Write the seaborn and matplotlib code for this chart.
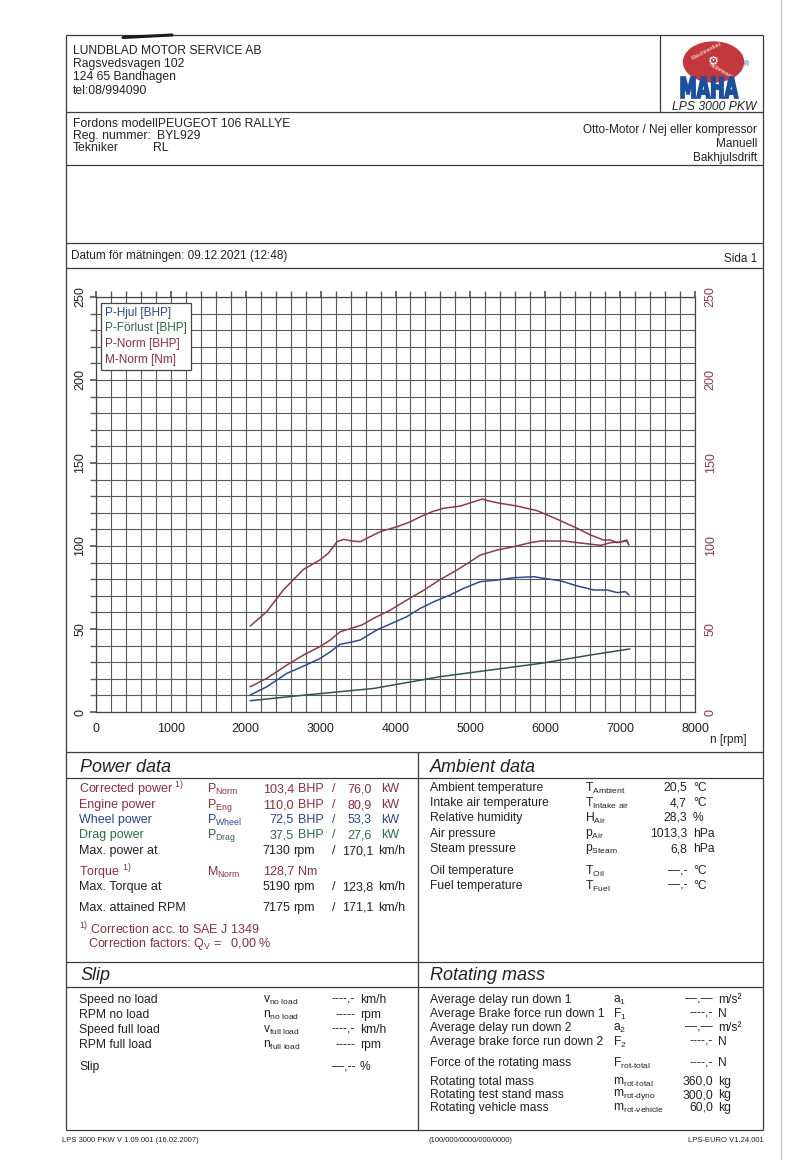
import pandas as pd
import matplotlib
matplotlib.use("Agg")
import matplotlib.pyplot as plt
import seaborn as sns
from matplotlib.patches import Ellipse, PathPatch
from matplotlib.lines import Line2D
from matplotlib.ticker import MultipleLocator
from matplotlib.textpath import TextPath
from matplotlib.font_manager import FontProperties
from matplotlib.transforms import Affine2D

# --- curves (rpm / BHP or Nm) ---
RPM_HJUL = [2060, 2280, 2550, 2770, 2990, 3130, 3260, 3400, 3530, 3750, 3930, 4150, 4330, 4510,
            4730, 4910, 5130, 5360, 5580, 5850, 5980, 6200, 6430, 6650, 6830, 6960, 7070, 7120]
P_HJUL = [10.2, 15.2, 23.3, 27.6, 32.2, 36.3, 40.8, 42.0, 43.4, 49.4, 53.0, 57.4, 62.4, 66.4,
          70.5, 74.5, 78.5, 79.5, 80.9, 81.5, 80.5, 79.1, 75.9, 73.5, 73.5, 71.9, 72.5, 70.5]

RPM_FORLUST = [2060, 2810, 3710, 4600, 5270, 5940, 6600, 7130]
P_FORLUST = [6.8, 10.3, 14.2, 21.3, 25.3, 29.3, 34.3, 38.0]

RPM_PNORM = [2060, 2280, 2550, 2770, 2990, 3130, 3260, 3400, 3550, 3710, 3930, 4150, 4380, 4600,
             4820, 5000, 5130, 5360, 5580, 5800, 5930, 6250, 6510, 6740, 6870, 7000, 7090, 7110]
P_NORM = [15.2, 20.3, 28.3, 34.3, 39.4, 43.4, 48.3, 50.3, 52.4, 56.5, 61.4, 67.4, 73.4, 79.9,
          85.5, 90.6, 94.5, 97.6, 99.6, 102.0, 103.0, 103.0, 101.6, 100.4, 102.0, 102.4, 103.6, 101.0]

RPM_MNORM = [2060, 2280, 2500, 2770, 2990, 3100, 3220, 3310, 3420, 3530, 3660, 3800, 4020, 4200,
             4330, 4490, 4640, 4870, 5040, 5160, 5240, 5400, 5620, 5890, 6160, 6430, 6600, 6780,
             6870, 6960, 7030, 7090, 7120]
M_NORM = [51.8, 60.4, 73.4, 85.9, 91.6, 95.5, 102.6, 104.0, 103.0, 102.6, 105.6, 108.7, 111.6, 114.6,
          117.6, 120.7, 122.7, 124.1, 126.6, 128.3, 127.2, 125.7, 124.1, 121.3, 116.1, 110.6, 106.7, 103.6,
          103.6, 102.0, 102.6, 103.0, 100.6]

SERIES = ["P-Hjul [BHP]", "P-Förlust [BHP]", "P-Norm [BHP]", "M-Norm [Nm]"]
X_TICKS = [0, 1000, 2000, 3000, 4000, 5000, 6000, 7000, 8000]
Y_TICKS = [0, 50, 100, 150, 200, 250]

BLUE, GREEN, RED = "#2e4c8c", "#2d5a3d", "#8c3b4c"
TRED, TBLUE, TGREEN = "#8a2f3f", "#2a4690", "#2f6a45"
INK = "#222222"
PALETTE = {SERIES[0]: BLUE, SERIES[1]: GREEN, SERIES[2]: RED, SERIES[3]: RED}

W, H = 793, 1160
XL, XR, XMID = 66, 763, 418   # page borders

sns.set_theme(style="white")
plt.rcParams["font.family"] = ["Liberation Sans", "DejaVu Sans"]
plt.rcParams["mathtext.fontset"] = "custom"
plt.rcParams["mathtext.rm"] = "Liberation Sans"
plt.rcParams["mathtext.it"] = "Liberation Sans:italic"
plt.rcParams["mathtext.bf"] = "Liberation Sans:bold"

fig = plt.figure(figsize=(W / 100, H / 100), dpi=100)
fig.patch.set_facecolor("white")

# page overlay in pixel coordinates
page = fig.add_axes([0, 0, 1, 1])
page.set_xlim(0, W)
page.set_ylim(H, 0)
page.axis("off")


def hline(y, x0=XL, x1=XR, lw=0.9):
    page.plot([x0, x1], [y, y], color="#3a3a3a", lw=lw, solid_capstyle="butt")


def vline(x, y0, y1, lw=0.9):
    page.plot([x, x], [y0, y1], color="#3a3a3a", lw=lw, solid_capstyle="butt")


def txt(x, y, s, size=8.5, color=INK, ha="left", **kw):
    page.text(x, y, s, fontsize=size, color=color, ha=ha, va="center", **kw)


# frame lines
vline(XL, 35, 1130)
vline(XR, 35, 1130)
hline(35)
hline(112)
vline(660, 35, 112)
hline(165)
hline(243)
hline(268)
hline(752)
hline(778)
hline(962)
hline(987)
hline(1130)
vline(XMID, 752, 1130)
page.plot([123, 172], [37.5, 35], color="#1a1a1a", lw=2.2)  # pen stroke
page.plot([781, 781], [0, H], color="#c8c8c8", lw=1)

# header
txt(73, 51, "LUNDBLAD MOTOR SERVICE AB", size=8.7)
txt(73, 63.5, "Ragsvedsvagen 102", size=8.7)
txt(73, 77, "124 65 Bandhagen", size=8.7)
txt(73, 91, "tel:08/994090", size=8.7)

# MAHA logo
page.add_patch(Ellipse((713.5, 62), 60, 40, color="#c3383d", zorder=3))
page.text(713.5, 61, "\u2699", fontsize=9, color="white", ha="center", va="center",
          family="DejaVu Sans", zorder=4)
page.text(707, 51, "Maschinenbau", fontsize=3.6, color="white", ha="center", va="center",
          rotation=28, zorder=4)
page.text(721, 71, "Haldenwang", fontsize=3.6, color="white", ha="center", va="center",
          rotation=-30, zorder=4)
tp = TextPath((0, 0), "MAHA", size=10, prop=FontProperties(family="DejaVu Sans", weight="bold"))
ext = tp.get_extents()
maha_tr = (Affine2D().translate(-ext.x0, -ext.y0)
           .scale(57 / ext.width, -21 / ext.height).translate(681, 98))
page.add_patch(PathPatch(maha_tr.transform_path(tp), facecolor="#1c4f9f", edgecolor="#1c4f9f",
                         lw=1.2, zorder=5))
page.text(746, 65, "\u00ae", fontsize=5, color="#1c4f9f", ha="center", va="center")
txt(757, 107.5, "LPS 3000 PKW", size=8.7, ha="right", style="italic")

# vehicle
txt(73, 124, "Fordons modellPEUGEOT 106 RALLYE", size=8.8)
txt(73, 136, "Reg. nummer:", size=8.8)
txt(157, 136, "BYL929", size=8.8)
txt(73, 148, "Tekniker", size=8.8)
txt(153, 148, "RL", size=8.8)
txt(757, 130, "Otto-Motor / Nej eller kompressor", size=8.5, ha="right")
txt(757, 144, "Manuell", size=8.5, ha="right")
txt(757, 158, "Bakhjulsdrift", size=8.5, ha="right")

txt(71, 256, "Datum för mätningen: 09.12.2021 (12:48)", size=8.5)
txt(757, 259, "Sida 1", size=8.5, ha="right")

# --- chart ---
ax = fig.add_axes([96 / W, 1 - 712 / H, (695 - 96) / W, (712 - 297) / H])
frames = [
    pd.DataFrame({"rpm": RPM_HJUL, "value": P_HJUL, "kurva": SERIES[0]}),
    pd.DataFrame({"rpm": RPM_FORLUST, "value": P_FORLUST, "kurva": SERIES[1]}),
    pd.DataFrame({"rpm": RPM_PNORM, "value": P_NORM, "kurva": SERIES[2]}),
    pd.DataFrame({"rpm": RPM_MNORM, "value": M_NORM, "kurva": SERIES[3]}),
]
df = pd.concat(frames, ignore_index=True)
sns.lineplot(data=df, x="rpm", y="value", hue="kurva", palette=PALETTE, estimator=None,
             sort=False, legend=False, lw=1.1, ax=ax)

ax.set_xlim(0, 8000)
ax.set_ylim(0, 250)
ax.set_xticks(X_TICKS)
ax.set_yticks(Y_TICKS)
ax.xaxis.set_minor_locator(MultipleLocator(200))
ax.yaxis.set_minor_locator(MultipleLocator(10))
ax.grid(which="both", color="#5a5a5a", lw=0.8)
ax.set_axisbelow(True)
ax.set_xlabel("")
ax.set_ylabel("")
for s in ax.spines.values():
    s.set_color("#444444")
    s.set_linewidth(0.9)
ax.tick_params(axis="x", which="both", bottom=False, top=True, labelbottom=True,
               direction="out", length=4, color="#5a5a5a", labelsize=9, pad=4, labelcolor=INK)
ax.tick_params(axis="y", which="both", left=True, direction="out", length=4, color="#5a5a5a",
               labelsize=9, pad=3, labelrotation=90, labelcolor=INK)
for lab in ax.get_yticklabels():
    lab.set_va("center")

ax2 = ax.twinx()
ax2.set_ylim(0, 250)
ax2.set_yticks(Y_TICKS)
ax2.grid(False)
ax2.tick_params(axis="y", length=0, labelsize=9, pad=7, labelrotation=90, labelcolor=RED)
for lab in ax2.get_yticklabels():
    lab.set_va("center")
for s in ax2.spines.values():
    s.set_visible(False)

handles = [Line2D([], [], color=PALETTE[n]) for n in SERIES]
leg = ax.legend(handles, SERIES, loc="upper left", bbox_to_anchor=(0.008, 0.986),
                handlelength=0, handletextpad=0, labelcolor=[TBLUE, TGREEN, TRED, TRED],
                frameon=True, fancybox=False, edgecolor="#444444", framealpha=1,
                fontsize=8.5, borderpad=0.35, labelspacing=0.3, borderaxespad=0)
leg.get_frame().set_linewidth(0.9)

txt(728, 740, "n [rpm]", size=8.5, ha="center")

# --- Power data ---
txt(80, 767, "Power data", size=13, style="italic")
power_rows = [
    (789, r"Corrected power ${}^{1)}$", r"P$_{\rm Norm}$", "103,4", "BHP", "76,0", "kW", TRED),
    (805, "Engine power", r"P$_{\rm Eng}$", "110,0", "BHP", "80,9", "kW", TRED),
    (820, "Wheel power", r"P$_{\rm Wheel}$", "72,5", "BHP", "53,3", "kW", TBLUE),
    (835, "Drag power", r"P$_{\rm Drag}$", "37,5", "BHP", "27,6", "kW", TGREEN),
]
for y, lab, sym, v1, u1, v2, u2, c in power_rows:
    txt(79, y, lab, size=9, color=c)
    txt(207, y, sym, size=9, color=c)
    txt(294, y, v1, size=9, color=c, ha="right")
    txt(298, y, u1, size=9, color=c)
    txt(334, y, "/", size=9, color=c, ha="center")
    txt(372, y, v2, size=9, color=c, ha="right")
    txt(381, y, u2, size=9, color=c)

txt(79, 851, "Max. power at", size=9)
txt(290, 851, "7130", size=9, ha="right")
txt(293, 851, "rpm", size=9)
txt(334, 851, "/", size=9, ha="center")
txt(373, 851, "170,1", size=9, ha="right")
txt(378, 851, "km/h", size=9)

txt(79, 872, r"Torque ${}^{1)}$", size=9, color=TRED)
txt(207, 872, r"M$_{\rm Norm}$", size=9, color=TRED)
txt(294, 872, "128,7", size=9, color=TRED, ha="right")
txt(298, 872, "Nm", size=9, color=TRED)

txt(79, 887, "Max. Torque at", size=9)
txt(290, 887, "5190", size=9, ha="right")
txt(293, 887, "rpm", size=9)
txt(334, 887, "/", size=9, ha="center")
txt(373, 887, "123,8", size=9, ha="right")
txt(378, 887, "km/h", size=9)

txt(79, 908, "Max. attained RPM", size=9)
txt(290, 908, "7175", size=9, ha="right")
txt(293, 908, "rpm", size=9)
txt(334, 908, "/", size=9, ha="center")
txt(373, 908, "171,1", size=9, ha="right")
txt(378, 908, "km/h", size=9)

txt(79, 929, r"${}^{1)}$ Correction acc. to SAE J 1349", size=9, color=TRED)
txt(88, 944, r"Correction factors: Q$_{\rm V}$ =   0,00 %", size=9, color=TRED)

# --- Ambient data ---
txt(430, 767, "Ambient data", size=13, style="italic")
amb_rows = [
    (788, "Ambient temperature", r"T$_{\rm Ambient}$", "20,5", "°C"),
    (803, "Intake air temperature", r"T$_{\rm Intake\ air}$", "4,7", "°C"),
    (818, "Relative humidity", r"H$_{\rm Air}$", "28,3", "%"),
    (834, "Air pressure", r"p$_{\rm Air}$", "1013,3", "hPa"),
    (849, "Steam pressure", r"p$_{\rm Steam}$", "6,8", "hPa"),
    (871, "Oil temperature", r"T$_{\rm Oil}$", "—,-", "°C"),
    (886, "Fuel temperature", r"T$_{\rm Fuel}$", "—,-", "°C"),
]
for y, lab, sym, v, u in amb_rows:
    txt(430, y, lab, size=8.7)
    txt(585, y, sym, size=8.7)
    txt(687, y, v, size=8.7, ha="right")
    txt(693, y, u, size=8.7)

# --- Slip ---
txt(80, 975, "Slip", size=13, style="italic")
slip_rows = [
    (1000, "Speed no load", r"v$_{\rm no\ load}$", "----,-", "km/h"),
    (1015, "RPM no load", r"n$_{\rm no\ load}$", "-----", "rpm"),
    (1030, "Speed full load", r"v$_{\rm full\ load}$", "----,-", "km/h"),
    (1045, "RPM full load", r"n$_{\rm full\ load}$", "-----", "rpm"),
    (1067, "Slip", "", "—,--", "%"),
]
for y, lab, sym, v, u in slip_rows:
    txt(79, y, lab, size=8.7)
    if sym:
        txt(263, y, sym, size=8.7)
    txt(355, y, v, size=8.7, ha="right")
    txt(360, y, u, size=8.7)

# --- Rotating mass ---
txt(430, 975, "Rotating mass", size=13, style="italic")
rot_rows = [
    (1000, "Average delay run down 1", r"a$_{1}$", "—,—", "m/s²"),
    (1014, "Average Brake force run down 1", r"F$_{1}$", "----,-", "N"),
    (1028, "Average delay run down 2", r"a$_{2}$", "—,—", "m/s²"),
    (1042, "Average brake force run down 2", r"F$_{2}$", "----,-", "N"),
    (1063, "Force of the rotating mass", r"F$_{\text{rot-total}}$", "----,-", "N"),
    (1082, "Rotating total mass", r"m$_{\text{rot-total}}$", "360,0", "kg"),
    (1095, "Rotating test stand mass", r"m$_{\text{rot-dyno}}$", "300,0", "kg"),
    (1108, "Rotating vehicle mass", r"m$_{\text{rot-vehicle}}$", "60,0", "kg"),
]
for y, lab, sym, v, u in rot_rows:
    txt(430, y, lab, size=8.7)
    txt(613, y, sym, size=8.7)
    txt(713, y, v, size=8.7, ha="right")
    txt(718, y, u, size=8.7)

# footer
txt(62, 1140, "LPS 3000 PKW V 1.09.001 (16.02.2007)", size=5.5)
txt(470, 1140, "(100/000/0000/000/0000)", size=5.5, ha="center")
txt(764, 1140, "LPS-EURO V1.24.001", size=5.5, ha="right")

fig.savefig("out.png", dpi=100, facecolor="white")
